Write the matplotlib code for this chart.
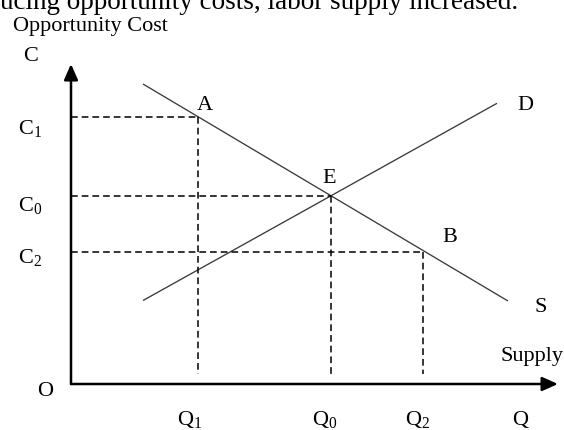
import matplotlib
matplotlib.use("Agg")
import matplotlib.pyplot as plt

plt.rcParams['font.family'] = ['Liberation Serif', 'DejaVu Serif']
plt.rcParams['mathtext.fontset'] = 'custom'
plt.rcParams['mathtext.rm'] = 'Liberation Serif'
plt.rcParams['mathtext.it'] = 'Liberation Serif:italic'

# values in chart units (origin O at the axis corner)
q_levels = [12.7, 26.0, 35.2]          # Q1, Q0, Q2
c_levels = [26.75, 18.8, 13.2]         # C1, C0, C2
q_labels = ['Q$_1$', 'Q$_0$', 'Q$_2$']
c_labels = ['C$_1$', 'C$_0$', 'C$_2$']

s_q = [7.2, 43.7]      # line S (downward)
s_c = [30.0, 8.3]
d_q = [7.2, 42.6]      # line D (upward)
d_c = [8.35, 28.07]

point_names = ['A', 'E', 'B']

fig = plt.figure(figsize=(5.64, 4.31), dpi=100)
ax = fig.add_axes([0, 0, 1, 1])
ax.set_xlim(-7.1, 49.3)
ax.set_ylim(-4.6, 38.5)
ax.axis('off')


def px(x, y):
    # pixel position of the reference -> chart units
    return (x - 71) / 10.0, (385 - y) / 10.0


fs = 16

# axes with arrows
arrow = dict(arrowstyle='-|>,head_length=0.95,head_width=0.42', color='black',
             lw=1.8, shrinkA=0, shrinkB=0, mutation_scale=10)
ax.annotate('', xy=(0, 32.0), xytext=(0, 0), arrowprops=arrow)
ax.annotate('', xy=(48.7, 0), xytext=(0, 0), arrowprops=arrow)

# curves
ax.plot(s_q, s_c, color='#3a3a3a', lw=0.95, solid_capstyle='butt')
ax.plot(d_q, d_c, color='#3a3a3a', lw=0.95, solid_capstyle='butt')

# dashed guides
dash = dict(color='black', lw=1.1, linestyle=(0, (4.4, 2.6)))
for q, c in zip(q_levels, c_levels):
    ax.plot([0, q], [c, c], **dash)
    ax.plot([q, q], [c, 1.0], **dash)

# text
ax.text(*px(0, 9), 'ucing opportunity costs, labor supply increased.',
        fontsize=19.5, ha='left', va='baseline')
ax.text(*px(12.7, 30.7), 'Opportunity Cost', fontsize=fs, ha='left', va='baseline')
ax.text(*px(23, 61), 'C', fontsize=fs, ha='left', va='baseline')
for lab, yb in zip(c_labels, [134, 211.5, 263]):
    ax.text(*px(18.3, yb), lab, fontsize=fs, ha='left', va='baseline')
ax.text(*px(37, 396), 'O', fontsize=fs, ha='left', va='baseline')
for lab, xl in zip(q_labels, [177, 312, 405]):
    ax.text(*px(xl, 425), lab, fontsize=fs, ha='left', va='baseline')
ax.text(*px(512, 425), 'Q', fontsize=fs, ha='left', va='baseline')
ax.text(*px(501, 360.7), 'Supply', fontsize=fs, ha='left', va='baseline')

for name, (xl, yb) in zip(point_names, [(197, 110), (322.7, 183.3), (442.7, 241.7)]):
    ax.text(*px(xl, yb), name, fontsize=fs, ha='left', va='baseline')
ax.text(*px(517.7, 110), 'D', fontsize=fs, ha='left', va='baseline')
ax.text(*px(535, 311.7), 'S', fontsize=fs, ha='left', va='baseline')

fig.savefig('out.png', dpi=100)
